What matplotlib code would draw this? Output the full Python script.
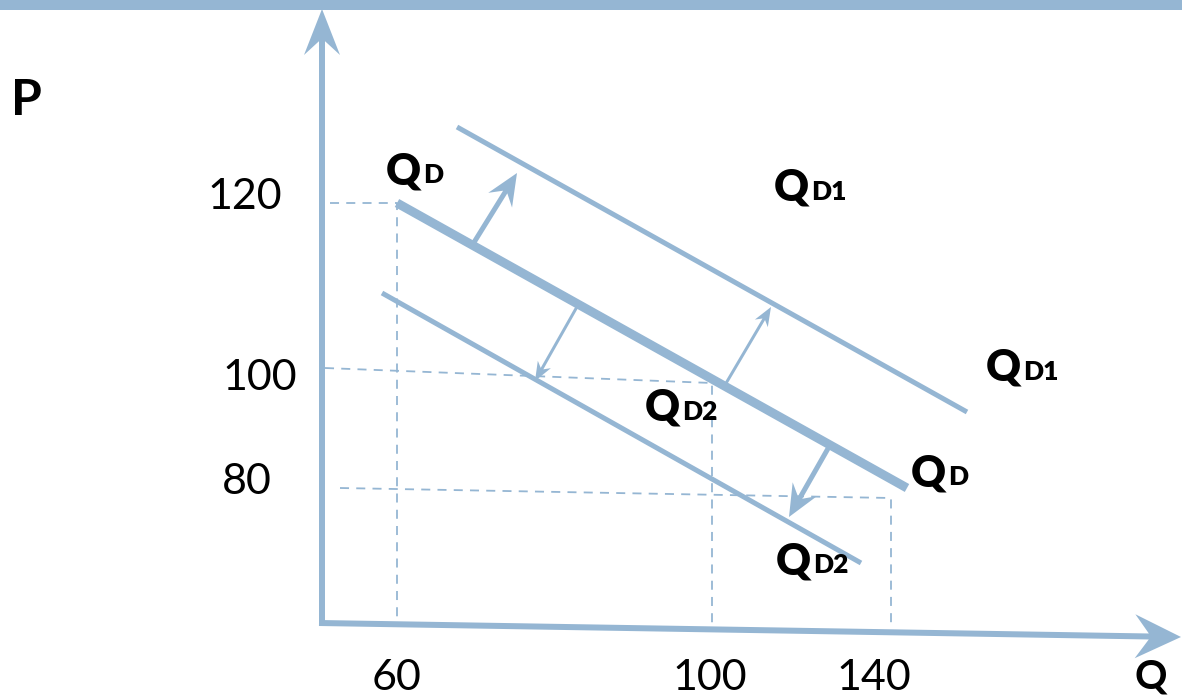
import matplotlib.pyplot as plt

# ========================================
# DATA (diagram drawn in picture pixel units)
# ========================================
W, H = 1182, 695
BLUE = '#95b6d3'

# demand curves: (start, end)
QD_LINE = [(397, 203), (907, 488)]
QD1_LINE = [(457, 127), (967, 412)]
QD2_LINE = [(382, 293), (861, 563)]

# shift arrows: (tail, head, thick?)
SHIFTS = [((473, 244), (517, 173), True),
          ((578, 305), (535, 381), False),
          ((725, 385), (771, 307), False),
          ((830, 445), (789, 517), True)]

# dashed guides
GUIDES = [[(330, 203), (397, 203), (397, 625)],
          [(325, 368), (712, 383), (712, 625)],
          [(340, 488), (891, 498), (891, 628)]]

# axes
Y_AXIS = [(322, 626), (322, 9)]
X_AXIS = [(319, 623), (1181, 637)]

P_TICKS = ['120', '100', '80']
P_TICK_POS = [(245, 197), (260, 378), (247, 482)]
Q_TICKS = ['60', '100', '140']
Q_TICK_POS = [(397, 678), (710, 678), (874, 678)]

# curve labels: (x, baseline y, suffix)
CURVE_LABELS = [(386, 184, 'D'), (774, 201, 'D1'), (986, 381, 'D1'),
                (645, 421, 'D2'), (911, 486, 'D'), (776, 574, 'D2')]


def arrow(ax, tail, head, width, head_width, head_length, overhang):
    ax.arrow(tail[0], tail[1], head[0] - tail[0], head[1] - tail[1],
             width=width, head_width=head_width, head_length=head_length,
             overhang=overhang, length_includes_head=True,
             color=BLUE, lw=0)


def main():
    fig = plt.figure(figsize=(W / 100, H / 100), dpi=100)
    ax = fig.add_axes([0, 0, 1, 1])
    ax.set_xlim(0, W)
    ax.set_ylim(H, 0)
    ax.axis('off')

    # bande en haut
    ax.add_patch(plt.Rectangle((0, 0), W, 10, color=BLUE, lw=0))

    # axes avec fleches
    arrow(ax, Y_AXIS[0], Y_AXIS[1], 6, 36, 46, 0.3)
    arrow(ax, X_AXIS[0], X_AXIS[1], 6, 44, 46, 0.3)

    # dashed guides
    for pts in GUIDES:
        xs, ys = zip(*pts)
        ax.plot(xs, ys, color=BLUE, lw=1.3, ls=(0, (5, 4)))

    # demand curves
    for line, lw in [(QD_LINE, 6.5), (QD1_LINE, 3.6), (QD2_LINE, 3.6)]:
        xs, ys = zip(*line)
        ax.plot(xs, ys, color=BLUE, lw=lw, solid_capstyle='butt')

    # shift arrows
    for tail, head, thick in SHIFTS:
        if thick:
            arrow(ax, tail, head, 5, 28, 32, 0.3)
        else:
            arrow(ax, tail, head, 3, 15, 19, 0.25)

    # tick labels
    for lab, (x, y) in zip(P_TICKS + Q_TICKS, P_TICK_POS + Q_TICK_POS):
        ax.text(x, y, lab, fontsize=31, family='Lato', ha='center', va='center')

    ax.text(11, 115, 'P', fontsize=36, weight='bold', family='Lato', va='baseline')
    ax.text(1134, 688, 'Q', fontsize=29, weight='bold', family='Lato', va='baseline')

    for x, y, suf in CURVE_LABELS:
        ax.text(x, y, 'Q', fontsize=31, weight='heavy', family='Lato', va='baseline')
        ax.text(x + 37, y - 1, suf, fontsize=19, weight='heavy', family='Lato',
                va='baseline')

    fig.savefig('out.png', dpi=100)


if __name__ == "__main__":
    main()
